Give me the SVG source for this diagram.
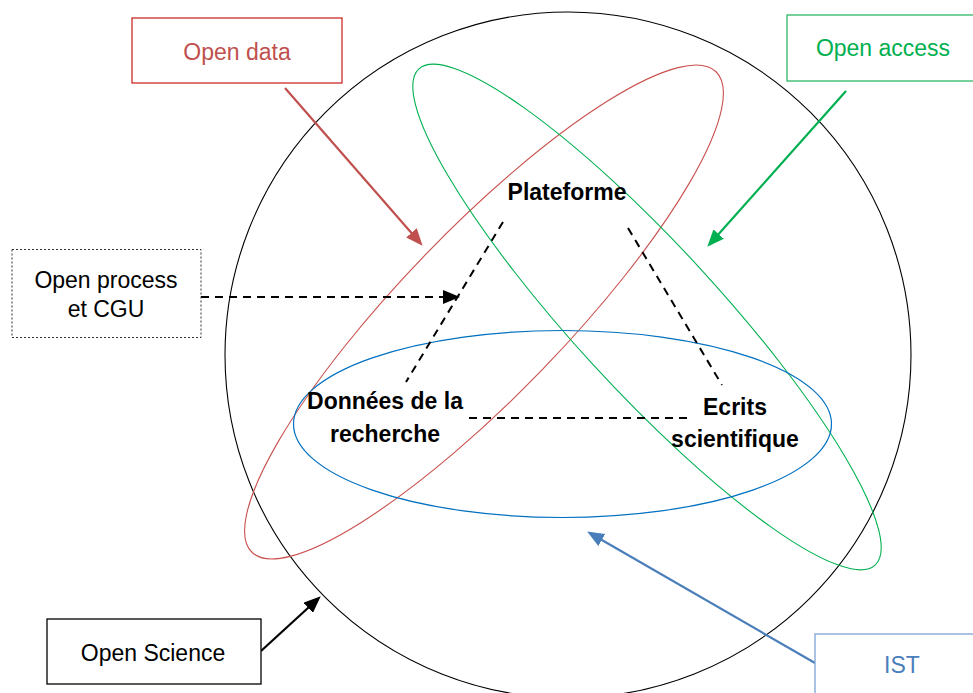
<svg xmlns="http://www.w3.org/2000/svg" width="973" height="693" viewBox="0 0 973 693">
<style>
  .lbl { font-family: "Liberation Sans", Arial, sans-serif; font-size: 23px; text-anchor: middle; }
  .bold { font-family: "Liberation Sans", Arial, sans-serif; font-size: 23px; font-weight: bold; text-anchor: middle; fill: #000; }
  .dash { fill: none; stroke: #000; stroke-width: 2; stroke-dasharray: 8 6; }
  .arr { fill: none; stroke-width: 2.2; }
</style>
<defs>
  <marker id="mRed" markerUnits="userSpaceOnUse" markerWidth="17" markerHeight="14" refX="13" refY="7" orient="auto"><path d="M0,0 L17,7 L0,14 z" fill="#C0504D"/></marker>
  <marker id="mGreen" markerUnits="userSpaceOnUse" markerWidth="17" markerHeight="14" refX="13" refY="7" orient="auto"><path d="M0,0 L17,7 L0,14 z" fill="#00B050"/></marker>
  <marker id="mBlack" markerUnits="userSpaceOnUse" markerWidth="17" markerHeight="14" refX="13" refY="7" orient="auto"><path d="M0,0 L17,7 L0,14 z" fill="#000"/></marker>
  <marker id="mBlue" markerUnits="userSpaceOnUse" markerWidth="17" markerHeight="14" refX="13" refY="7" orient="auto"><path d="M0,0 L17,7 L0,14 z" fill="#4A7EBB"/></marker>
</defs>
<rect width="973" height="693" fill="#fff"/>

<g id="shapes">
  <circle id="science-circle" cx="568" cy="355" r="343" fill="none" stroke="#000" stroke-width="1.1"/>
  <ellipse id="red-ellipse" cx="484" cy="312" rx="334" ry="82" transform="rotate(-46 484 312)" fill="none" stroke="#C9504D" stroke-width="1.1"/>
  <ellipse id="green-ellipse" cx="647" cy="317" rx="337" ry="72" transform="rotate(47.4 647 317)" fill="none" stroke="#00B050" stroke-width="1.1"/>
  <ellipse id="blue-ellipse" cx="562.5" cy="424" rx="269" ry="93.5" fill="none" stroke="#0070C0" stroke-width="1.2"/>
</g>

<g id="connectors">
  <line class="dash" x1="503" y1="222" x2="406" y2="382"/>
  <line class="dash" x1="628" y1="228" x2="722" y2="385"/>
  <line class="dash" x1="469" y1="418" x2="688" y2="418"/>
  <line class="dash" x1="201" y1="297" x2="456" y2="297" marker-end="url(#mBlack)"/>
  <line class="arr" x1="285" y1="88" x2="420" y2="242.7" stroke="#C0504D" marker-end="url(#mRed)"/>
  <line class="arr" x1="846" y1="91" x2="710" y2="243.8" stroke="#00B050" marker-end="url(#mGreen)"/>
  <line class="arr" x1="261" y1="651" x2="317.8" y2="599" stroke="#000" marker-end="url(#mBlack)"/>
  <line class="arr" x1="815" y1="663" x2="590.6" y2="533.5" stroke="#4A7EBB" marker-end="url(#mBlue)"/>
</g>

<g id="open-data">
  <rect x="132" y="18" width="210" height="65" fill="#fff" stroke="#CC2B2B" stroke-width="1.3"/>
  <text class="lbl" x="237" y="60" fill="#C0504D">Open data</text>
</g>
<g id="open-access">
  <rect x="787" y="15" width="200" height="66" fill="#fff" stroke="#2DB866" stroke-width="1.3"/>
  <text class="lbl" x="883" y="56" fill="#00B050">Open access</text>
</g>
<g id="open-process">
  <rect x="12" y="249.5" width="189" height="88" fill="#fff" stroke="#333" stroke-width="1" stroke-dasharray="2 2"/>
  <text class="lbl" x="106" y="288" fill="#000">Open process</text>
  <text class="lbl" x="106" y="317" fill="#000">et CGU</text>
</g>
<g id="open-science">
  <rect x="47" y="619" width="214" height="65" fill="#fff" stroke="#000" stroke-width="1.3"/>
  <text class="lbl" x="153" y="661" fill="#000">Open Science</text>
</g>
<g id="ist">
  <rect x="815" y="634" width="200" height="100" fill="#fff" stroke="#7FA2D6" stroke-width="1.3"/>
  <text class="lbl" x="902" y="673" fill="#4A7EBB">IST</text>
</g>
<g id="plateforme">
  <text class="bold" x="567" y="200">Plateforme</text>
</g>
<g id="donnees">
  <text class="bold" x="385" y="409">Données de la</text>
  <text class="bold" x="385" y="442">recherche</text>
</g>
<g id="ecrits">
  <text class="bold" x="735" y="415">Ecrits</text>
  <text class="bold" x="735" y="447">scientifique</text>
</g>
</svg>
